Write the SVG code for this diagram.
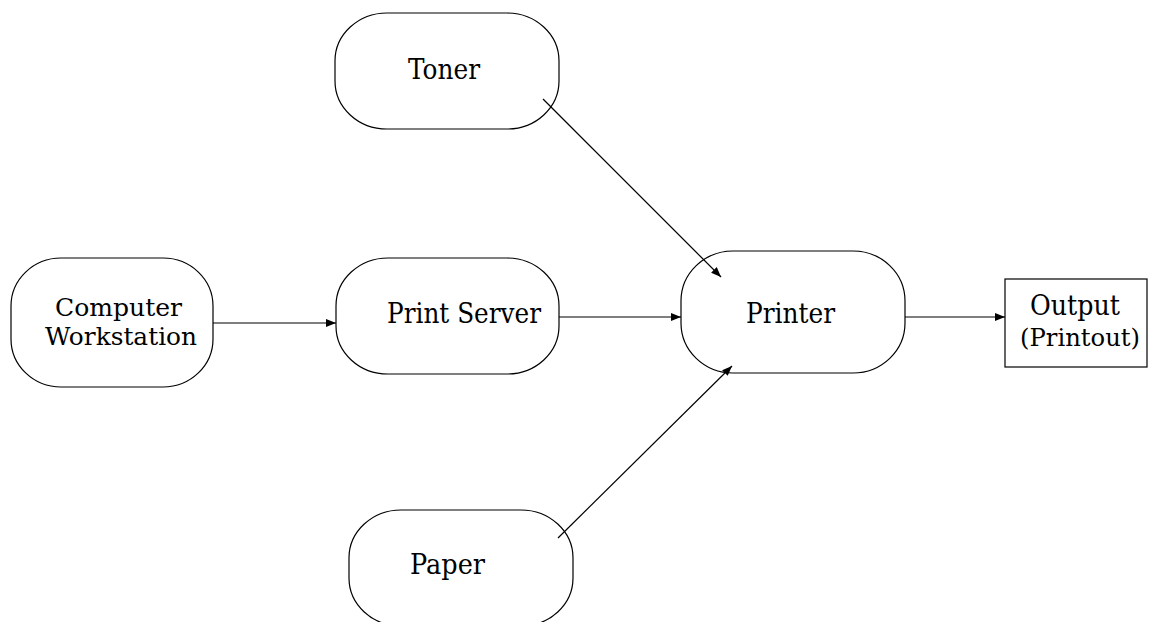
<svg xmlns="http://www.w3.org/2000/svg" width="1149" height="622" viewBox="0 0 1149 622">
<style>
.n{fill:#fff;stroke:#000;stroke-width:1.2}
.t{font-family:"DejaVu Serif","Liberation Serif",serif;font-size:28px;fill:#000}
.s{font-size:25px}
.c{stroke:#000;stroke-width:1.2;fill:none;marker-end:url(#ah)}
</style>
<defs>
<marker id="ah" viewBox="0 0 10 8" refX="10" refY="4" markerWidth="10" markerHeight="8" markerUnits="userSpaceOnUse" orient="auto">
<path d="M0,0 L10,4 L0,8 Z" fill="#000"/>
</marker>
</defs>
<rect width="1149" height="622" fill="#fff"/>
<g id="workstation">
<rect class="n" x="11" y="258" width="202" height="129" rx="50" ry="48"/>
<text class="t s" x="55" y="316" textLength="127" lengthAdjust="spacingAndGlyphs">Computer</text>
<text class="t s" x="45" y="345" textLength="152" lengthAdjust="spacingAndGlyphs">Workstation</text>
</g>
<g id="toner">
<rect class="n" x="335" y="13" width="224" height="116" rx="52" ry="48"/>
<text class="t" x="408" y="79" textLength="72" lengthAdjust="spacingAndGlyphs">Toner</text>
</g>
<g id="printserver">
<rect class="n" x="336" y="258" width="223" height="116" rx="52" ry="48"/>
<text class="t" x="387" y="323" textLength="154" lengthAdjust="spacingAndGlyphs">Print Server</text>
</g>
<g id="printer">
<rect class="n" x="681" y="251" width="224" height="122" rx="52" ry="50"/>
<text class="t" x="746" y="323" textLength="89" lengthAdjust="spacingAndGlyphs">Printer</text>
</g>
<g id="paper">
<rect class="n" x="349" y="510" width="224" height="116" rx="52" ry="48"/>
<text class="t" x="410" y="574" textLength="75" lengthAdjust="spacingAndGlyphs">Paper</text>
</g>
<g id="output">
<rect class="n" x="1005" y="279" width="142" height="88"/>
<text class="t" x="1030" y="315" textLength="90" lengthAdjust="spacingAndGlyphs">Output</text>
<text class="t s" x="1020" y="346" textLength="120" lengthAdjust="spacingAndGlyphs">(Printout)</text>
</g>
<g id="connectors">
<line class="c" x1="213" y1="323" x2="336" y2="323"/>
<line class="c" x1="559" y1="317" x2="681" y2="317"/>
<line class="c" x1="905" y1="317" x2="1005" y2="317"/>
<line class="c" x1="543" y1="99" x2="721" y2="277"/>
<line class="c" x1="558" y1="538" x2="732" y2="366"/>
</g>
</svg>
